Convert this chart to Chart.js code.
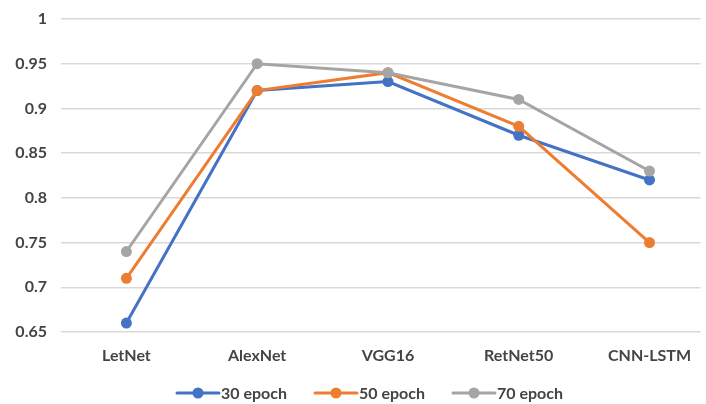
<!DOCTYPE html>
<html>
<head>
<meta charset="utf-8">
<script src="https://cdn.jsdelivr.net/npm/chart.js@4/dist/chart.umd.min.js"></script>
<style>
  html, body { margin: 0; padding: 0; background: #fff; }
  #wrap { width: 706px; height: 404px; }
</style>
</head>
<body>
<div id="wrap"><canvas id="accChart" width="706" height="404"></canvas></div>
<script>
// -------------------------
// Data
// -------------------------
const models = ["LetNet", "AlexNet", "VGG16", "RetNet50", "CNN-LSTM"];
const epoch30 = [0.66, 0.92, 0.93, 0.87, 0.82];
const epoch50 = [0.71, 0.92, 0.94, 0.88, 0.75];
const epoch70 = [0.74, 0.95, 0.94, 0.91, 0.83];
const yTicks = [0.65, 0.7, 0.75, 0.8, 0.85, 0.9, 0.95, 1];

const seriesNames = ["30 epoch", "50 epoch", "70 epoch"];
const seriesColors = ["#4472C4", "#ED7D31", "#A5A5A5"];

const textColor = "#444444";
const fontFamily = "Lato, 'Liberation Sans', sans-serif";
const fontSize = 16;

function toPoints(values) {
  return values.map((v, i) => ({ x: i, y: v }));
}

// -------------------------
// Legend (line + dot markers)
// -------------------------
const lineLegend = {
  id: "lineLegend",
  afterDraw(chart) {
    const ctx = chart.ctx;
    const y = 393;
    const lineLen = 44;
    const gap = 26;
    ctx.save();
    ctx.font = "bold " + fontSize + "px " + fontFamily;
    ctx.textBaseline = "middle";
    const items = chart.data.datasets.map(ds => ({
      label: ds.label,
      color: ds.borderColor,
      w: lineLen + 2 + ctx.measureText(ds.label).width
    }));
    const total = items.reduce((s, it) => s + it.w, 0) + gap * (items.length - 1);
    let x = 370 - total / 2;
    items.forEach(it => {
      ctx.strokeStyle = it.color;
      ctx.lineWidth = 3;
      ctx.lineCap = "round";
      ctx.beginPath();
      ctx.moveTo(x + 1, y);
      ctx.lineTo(x + lineLen - 1, y);
      ctx.stroke();
      ctx.fillStyle = it.color;
      ctx.beginPath();
      ctx.arc(x + lineLen / 2, y, 5.5, 0, Math.PI * 2);
      ctx.fill();
      ctx.fillStyle = textColor;
      ctx.fillText(it.label, x + lineLen + 1, y + 1);
      x += it.w + gap;
    });
    ctx.restore();
  }
};

// -------------------------
// Chart
// -------------------------
const allSeries = [epoch30, epoch50, epoch70];
const datasets = allSeries.map((vals, i) => ({
  label: seriesNames[i],
  data: toPoints(vals),
  borderColor: seriesColors[i],
  backgroundColor: seriesColors[i],
  borderWidth: 3,
  pointRadius: 5.5,
  pointHoverRadius: 5.5,
  pointBorderWidth: 0,
  tension: 0,
  order: allSeries.length - i
}));

new Chart(document.getElementById("accChart"), {
  type: "line",
  data: { datasets },
  plugins: [lineLegend],
  options: {
    responsive: false,
    animation: false,
    layout: { padding: { top: 19, left: 0, right: 0, bottom: 0 } },
    plugins: {
      legend: { display: false },
      tooltip: { enabled: false }
    },
    scales: {
      x: {
        type: "linear",
        min: -0.5,
        max: 4.39,
        grid: { display: false, drawTicks: false },
        border: { display: false },
        afterFit: s => { s.height = 72; },
        afterBuildTicks: s => { s.ticks = models.map((_, i) => ({ value: i })); },
        ticks: {
          padding: 14,
          color: textColor,
          font: { family: fontFamily, size: fontSize, weight: "bold" },
          maxRotation: 0,
          callback: v => models[v]
        }
      },
      y: {
        min: 0.65,
        max: 1,
        grid: { color: "#d9d9d9", lineWidth: 1.5, drawTicks: false },
        border: { display: false },
        afterFit: s => {
          s.width = 61;
          // tick padding would otherwise push the plot area down
          s.paddingTop = 0;
          s.paddingBottom = 0;
        },
        afterBuildTicks: s => { s.ticks = yTicks.map(v => ({ value: v })); },
        ticks: {
          padding: 14,
          color: textColor,
          font: { family: fontFamily, size: fontSize, weight: "bold" },
          callback: v => String(Math.round(v * 100) / 100)
        }
      }
    }
  }
});
</script>
</body>
</html>
